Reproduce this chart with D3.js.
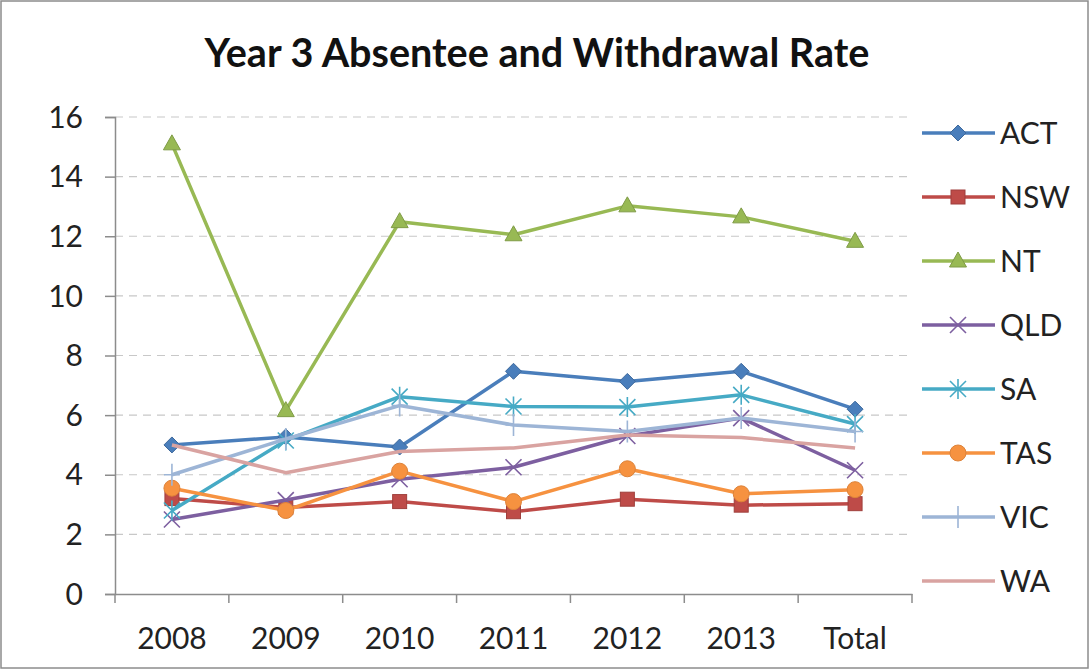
<!DOCTYPE html>
<html><head><meta charset="utf-8">
<script src="https://cdn.jsdelivr.net/npm/d3@7"></script>
<style>body{margin:0;background:#fff}svg{display:block}</style>
</head><body>
<script>
const categories = ["2008","2009","2010","2011","2012","2013","Total"];
const yTicks = [0,2,4,6,8,10,12,14,16];
const seriesNames = ["ACT","NSW","NT","QLD","SA","TAS","VIC","WA"];
const ACT = [5.0,5.27,4.93,7.47,7.13,7.47,6.2];
const NSW = [3.2,2.9,3.1,2.76,3.18,2.98,3.03];
const NT  = [15.1,6.15,12.49,12.05,13.02,12.65,11.83];
const QLD = [2.5,3.15,3.85,4.25,5.3,5.9,4.15];
const SA  = [2.8,5.15,6.62,6.29,6.27,6.68,5.7];
const TAS = [3.55,2.8,4.12,3.1,4.2,3.36,3.5];
const VIC = [4.0,5.2,6.32,5.67,5.45,5.9,5.45];
const WA  = [5.0,4.07,4.78,4.9,5.33,5.25,4.9];
const seriesValues = [ACT,NSW,NT,QLD,SA,TAS,VIC,WA];
const colors = ["#4A7EBB","#BE4B48","#98B954","#7D5FA0","#46AAC5","#F69240","#9DB5D6","#D9A3A1"];
const markers = ["diamond","square","triangle","x","asterisk","circle","plus","none"];

(function(){
const W=1089,H=669;
const svg=d3.select("body").append("svg").attr("width",W).attr("height",H);
svg.append("rect").attr("x",1).attr("y",1).attr("width",W-2).attr("height",H-2).attr("fill","#fff").attr("stroke","#8c8c8c").attr("stroke-width",1.5);

const pl=115,pr=912,pt=117,pb=594;
const x=d3.scaleBand().domain(categories).range([pl,pr]);
const y=d3.scaleLinear().domain([0,16]).range([pb,pt]);
const font="Lato, 'Open Sans', sans-serif";

const title=svg.append("text").attr("x",537).attr("y",67).attr("text-anchor","middle")
  .attr("font-family",font).attr("font-weight","bold").attr("font-size",36).attr("fill","#111")
  .text("Year 3 Absentee and Withdrawal Rate");
const tw=title.node().getComputedTextLength();
if(tw>0) title.attr("font-size",36*665/tw);

svg.append("g").selectAll("line").data(yTicks.filter(d=>d>0)).join("line")
  .attr("x1",pl).attr("x2",pr).attr("y1",d=>y(d)).attr("y2",d=>y(d))
  .attr("stroke","#c8c8c8").attr("stroke-width",1.2).attr("stroke-dasharray","8,6");

const ya=svg.append("g").attr("transform",`translate(${pl},0)`)
  .call(d3.axisLeft(y).tickValues(yTicks).tickSize(10).tickPadding(22).tickFormat(d3.format("d")));
ya.select(".domain").attr("stroke","#8c8c8c").attr("stroke-width",1.5);
ya.selectAll(".tick line").attr("stroke","#8c8c8c").attr("stroke-width",1.5);
ya.selectAll("text").attr("font-family",font).attr("font-size",30).attr("fill","#222").attr("dy","0.34em");

const xa=svg.append("g").attr("transform",`translate(0,${pb})`)
  .call(d3.axisBottom(x).tickSize(0).tickPadding(34));
xa.select(".domain").attr("stroke","#8c8c8c").attr("stroke-width",1.5);
xa.selectAll("text").attr("font-family",font).attr("font-size",30).attr("fill","#222");
svg.append("g").selectAll("line").data(d3.range(categories.length+1)).join("line")
  .attr("x1",i=>pl+i*x.step()).attr("x2",i=>pl+i*x.step())
  .attr("y1",pb).attr("y2",pb+9).attr("stroke","#8c8c8c").attr("stroke-width",1.5);

function drawMarker(g,type,cx,cy,color){
  if(type==="diamond"){
    g.append("path").attr("d",`M${cx},${cy-8}L${cx+8},${cy}L${cx},${cy+8}L${cx-8},${cy}Z`).attr("fill",color).attr("stroke",d3.color(color).darker(0.5));
  }else if(type==="square"){
    g.append("rect").attr("x",cx-7).attr("y",cy-7).attr("width",14).attr("height",14).attr("fill",color).attr("stroke",d3.color(color).darker(0.5));
  }else if(type==="triangle"){
    g.append("path").attr("d",`M${cx},${cy-9}L${cx+8.5},${cy+6}L${cx-8.5},${cy+6}Z`).attr("fill",color).attr("stroke",d3.color(color).darker(0.5));
  }else if(type==="x"){
    g.append("path").attr("d",`M${cx-8},${cy-8}L${cx+8},${cy+8}M${cx-8},${cy+8}L${cx+8},${cy-8}`).attr("stroke",color).attr("stroke-width",1.6);
  }else if(type==="asterisk"){
    g.append("path").attr("d",`M${cx-8},${cy-8}L${cx+8},${cy+8}M${cx-8},${cy+8}L${cx+8},${cy-8}M${cx},${cy-10}L${cx},${cy+10}`).attr("stroke",color).attr("stroke-width",1.6);
  }else if(type==="circle"){
    g.append("circle").attr("cx",cx).attr("cy",cy).attr("r",8).attr("fill",color).attr("stroke",d3.color(color).darker(0.3));
  }else if(type==="plus"){
    g.append("path").attr("d",`M${cx-8},${cy}L${cx+8},${cy}M${cx},${cy-11}L${cx},${cy+11}`).attr("stroke",color).attr("stroke-width",1.6);
  }
}

const line=d3.line().x((d,i)=>x(categories[i])+x.bandwidth()/2).y(d=>y(d));
seriesValues.forEach((vals,si)=>{
  const g=svg.append("g");
  g.append("path").datum(vals).attr("d",line).attr("fill","none").attr("stroke",colors[si])
    .attr("stroke-width",3.5).attr("stroke-linejoin","round");
  vals.forEach((v,i)=>drawMarker(g,markers[si],x(categories[i])+x.bandwidth()/2,y(v),colors[si]));
});

const lg=svg.append("g");
seriesNames.forEach((n,i)=>{
  const ly=133+i*64;
  lg.append("line").attr("x1",922).attr("x2",995).attr("y1",ly).attr("y2",ly).attr("stroke",colors[i]).attr("stroke-width",3.5);
  drawMarker(lg,markers[i],958,ly,colors[i]);
  lg.append("text").attr("x",1000).attr("y",ly+11).attr("font-family",font).attr("font-size",30).attr("fill","#222").text(n);
});
})();
</script>
</body></html>
